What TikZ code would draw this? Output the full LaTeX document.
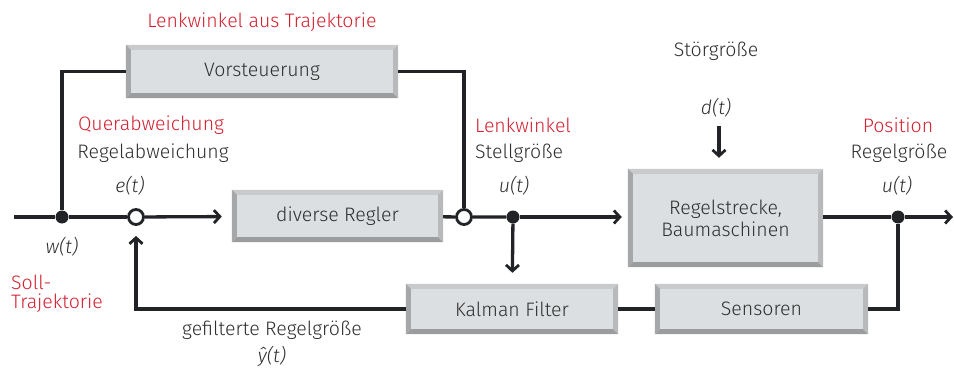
\documentclass[tikz,border=0pt]{standalone}
\usepackage{fontspec}
\setmainfont{Fira Sans}[UprightFont={* Light}, ItalicFont={* Light Italic}]
\usetikzlibrary{arrows.meta,calc}
\definecolor{ink}{HTML}{222326}
\definecolor{txt}{HTML}{2E2E2E}
\definecolor{accent}{HTML}{D3202F}
\definecolor{face}{HTML}{DCDFE1}
\definecolor{bevtop}{HTML}{C9CACC}
\definecolor{bevright}{HTML}{B8B9BB}
\definecolor{bevleft}{HTML}{A6A7A9}
\definecolor{bevbot}{HTML}{9B9C9E}
\tikzset{
  blockbox/.style={fill=face, draw=none, inner sep=0pt, align=center, text=txt,
    font=\fontsize{19.5}{22}\selectfont},
  wire/.style={draw=ink, line width=3.3pt},
  flow/.style={wire, -{Straight Barb[length=6pt,width=13pt,line width=2.8pt]}},
  sumpt/.style={circle, draw=ink, fill=white, line width=2.8pt, minimum size=15pt, inner sep=0pt},
  joint/.style={circle, fill=ink, minimum size=13pt, inner sep=0pt},
  lbl/.style={text=txt, font=\fontsize{19.5}{19}\selectfont, inner sep=0pt},
  redlbl/.style={lbl, text=accent},
  sig/.style={lbl, font=\fontsize{19.5}{19}\selectfont\itshape},
}
% bevelled frame around a block node
\newcommand{\bevelframe}[1]{%
  \fill[bevtop] (#1.north west) -- (#1.north east) -- ($(#1.north east)+(-5,5)$) -- ($(#1.north west)+(5,5)$) -- cycle;
  \fill[bevbot] (#1.south west) -- (#1.south east) -- ($(#1.south east)+(-5,-5)$) -- ($(#1.south west)+(5,-5)$) -- cycle;
  \fill[bevleft] (#1.north west) -- (#1.south west) -- ($(#1.south west)+(5,-5)$) -- ($(#1.north west)+(5,5)$) -- cycle;
  \fill[bevright] (#1.north east) -- (#1.south east) -- ($(#1.south east)+(-5,-5)$) -- ($(#1.north east)+(-5,5)$) -- cycle;
}
\begin{document}
\begin{tikzpicture}[x=1pt, y=-1pt]
\useasboundingbox (0,0) rectangle (954,369);

% blocks
\node[blockbox, minimum width=272pt, minimum height=53pt] (vor) at (262,71.5) {Vorsteuerung};
\node[blockbox, minimum width=211pt, minimum height=52pt] (reg) at (337.5,216) {diverse Regler};
\node[blockbox, minimum width=195pt, minimum height=98pt] (plant) at (725.5,218) {Regelstrecke,\\Baumaschinen};
\node[blockbox, minimum width=212pt, minimum height=50pt] (kal) at (512,309) {Kalman Filter};
\node[blockbox, minimum width=213pt, minimum height=50pt] (sen) at (761.5,309) {Sensoren};
\bevelframe{vor}
\bevelframe{reg}
\bevelframe{plant}
\bevelframe{kal}
\bevelframe{sen}

% junctions
\coordinate (inp) at (14,217);
\coordinate (outp) at (953,217);
\coordinate (dtop) at (719,126);
\node[joint] (w) at (62,217) {};
\node[sumpt] (e) at (136,217) {};
\node[sumpt] (s) at (464,217) {};
\node[joint] (u) at (513,217) {};
\node[joint] (y) at (898,217) {};

% connectors
\draw[wire] (inp) -- (w) -- (e);
\draw[wire] (w) |- (vor.west);
\draw[wire] (vor.east) -| (s);
\draw[flow, shorten >=10pt] (e) -- (reg);
\draw[wire] (reg) -- (s) -- (u);
\draw[flow, shorten >=6pt] (u) -- (u -| plant.west);
\draw[flow, shorten >=11pt] (u) -- (kal);
\draw[wire] (plant.east |- y) -- (y);
\draw[flow] (y) -- (outp);
\draw[wire] (y) |- (sen.east);
\draw[wire] (sen) -- (kal);
\draw[flow, shorten >=10pt] (kal.west) -| (e);
\draw[flow, shorten >=11pt] (dtop) -- (dtop |- plant.north);

% labels
\node[redlbl] (t1) at (262,22) {Lenkwinkel aus Trajektorie};
\node[redlbl] (t2) at (151,125) {Querabweichung};
\node[lbl] (t3) at (153,153) {Regelabweichung};
\node[sig] (t4) at (130,186) {e(t)};
\node[sig] (t5) at (62,247) {w(t)};
\node[redlbl, anchor=west, align=left] (t6) at (11,294) {Soll-\\Trajektorie};
\node[redlbl, anchor=west] (t8) at (475,125) {Lenkwinkel};
\node[lbl, anchor=west] (t9) at (475,153) {Stellgröße};
\node[sig] (t10) at (514,186) {u(t)};
\node[lbl] (t11) at (716,51) {Störgröße};
\node[sig] (t12) at (716,108) {d(t)};
\node[redlbl] (t13) at (898,125) {Position};
\node[lbl] (t14) at (899,153) {Regelgröße};
\node[sig] (t15) at (897,186) {u(t)};
\node[lbl] (t16) at (272,330) {gefilterte Regelgröße};
\node[sig] (t17) at (272,356) {ŷ(t)};
\end{tikzpicture}
\end{document}
